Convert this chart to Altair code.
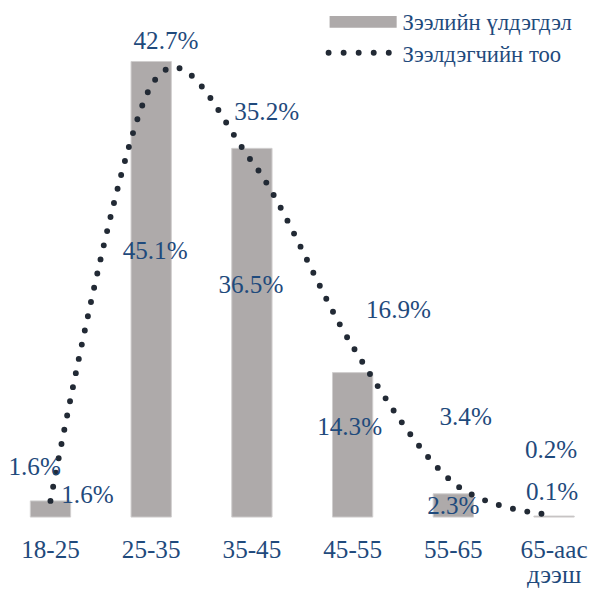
import altair as alt
import pandas as pd

categories = ["18-25", "25-35", "35-45", "45-55", "55-65", "65-аас дээш"]
balance = [1.6, 45.1, 36.5, 14.3, 2.3, 0.1]      # Зээлийн үлдэгдэл
borrowers = [1.6, 42.7, 35.2, 16.9, 3.4, 0.2]    # Зээлдэгчийн тоо
series_names = ["Зээлийн үлдэгдэл", "Зээлдэгчийн тоо"]

# label placement (layout only), relative to the data point
line_label_dx = [-16, 15, 15, 46.5, 12.5, -3]
line_label_dy = [-26.6, -37, -41.6, -29, -59, -58]
bar_label_dx = [37.5, 4, -1, -3, 0, -2]
bar_label_dy = [2.4, 200, 147, 63, 20.6, -16]

TEXT = "#1F4A7C"
BAR = "#AEAAAA"
DOT = "#222A35"
FONT = "Liberation Serif"
FS = 25.5

df = pd.DataFrame({
    "cat": categories,
    "balance": balance,
    "borrowers": borrowers,
})
df["balance_lbl"] = [f"{v:.1f}%" for v in balance]
df["borrowers_lbl"] = [f"{v:.1f}%" for v in borrowers]

xscale = alt.Scale(domain=categories, range=[-8, 604.6], paddingInner=0.6, paddingOuter=0.3)
yscale = alt.Scale(domain=[0, 50], nice=False, zero=True)

x_enc = alt.X("cat:N", scale=xscale, sort=categories, axis=None)

base = alt.Chart(df)

bars = base.mark_bar(color=BAR, stroke="#D0CECE", strokeWidth=1).encode(
    x=x_enc,
    y=alt.Y("balance:Q", scale=yscale, axis=None),
)

line = base.mark_line(
    color=DOT, strokeWidth=6, strokeCap="round", strokeDash=[0, 14.7],
    interpolate="cardinal",
).encode(
    x=x_enc,
    y=alt.Y("borrowers:Q", scale=yscale, axis=None),
)

# category labels under the bars
cat_labels = base.mark_text(
    font=FONT, fontSize=FS, color=TEXT, align="center", baseline="alphabetic",
    lineBreak=" ", lineHeight=26,
).encode(x=x_enc, y=alt.value(553), text="cat:N")

layers = [bars, line, cat_labels]

for i, c in enumerate(categories):
    layers.append(
        base.transform_filter(alt.datum.cat == c).mark_text(
            font=FONT, fontSize=FS, color=TEXT, align="center", baseline="alphabetic",
            dx=bar_label_dx[i], dy=bar_label_dy[i],
        ).encode(x=x_enc, y=alt.Y("balance:Q", scale=yscale, axis=None),
                 text="balance_lbl:N")
    )
    layers.append(
        base.transform_filter(alt.datum.cat == c).mark_text(
            font=FONT, fontSize=FS, color=TEXT, align="center", baseline="alphabetic",
            dx=line_label_dx[i], dy=line_label_dy[i],
        ).encode(x=x_enc, y=alt.Y("borrowers:Q", scale=yscale, axis=None),
                 text="borrowers_lbl:N")
    )

# legend
leg_df = pd.DataFrame({"name": series_names})
leg_bar = alt.Chart(leg_df).transform_filter(alt.datum.name == series_names[0]).mark_rect(
    color=BAR).encode(x=alt.value(326), x2=alt.value(394), y=alt.value(4), y2=alt.value(16))
leg_dots = alt.Chart(leg_df).transform_filter(alt.datum.name == series_names[1]).mark_rule(
    color=DOT, strokeWidth=6, strokeCap="round", strokeDash=[0, 15.25]).encode(
    x=alt.value(325), x2=alt.value(386.5), y=alt.value(41.3))
leg_t1 = alt.Chart(leg_df).transform_filter(alt.datum.name == series_names[0]).mark_text(
    font=FONT, fontSize=23, color=TEXT, align="left", baseline="alphabetic").encode(
    x=alt.value(400), y=alt.value(18.7), text="name:N")
leg_t2 = alt.Chart(leg_df).transform_filter(alt.datum.name == series_names[1]).mark_text(
    font=FONT, fontSize=23, color=TEXT, align="left", baseline="alphabetic").encode(
    x=alt.value(400), y=alt.value(50.3), text="name:N")

layers += [leg_bar, leg_dots, leg_t1, leg_t2]

chart = alt.layer(*layers).properties(
    width=591, height=512,
    autosize=alt.AutoSizeParams(type="none"),
    padding={"left": 0, "top": 0, "right": 0, "bottom": 78},
    background="white",
).configure_view(stroke=None)

chart.save("out.html", embed_options={"renderer": "svg", "actions": False})
